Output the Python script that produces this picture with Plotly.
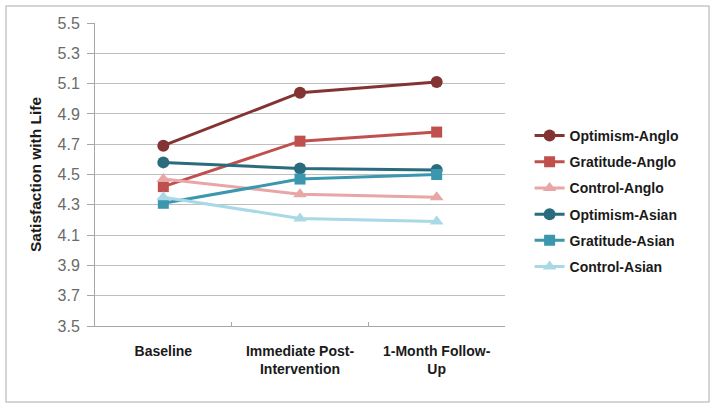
import plotly.graph_objects as go

categories = ["Baseline", "Immediate Post-<br>Intervention", "1-Month Follow-<br>Up"]
series_names = ["Optimism-Anglo", "Gratitude-Anglo", "Control-Anglo",
                "Optimism-Asian", "Gratitude-Asian", "Control-Asian"]
optimism_anglo = [4.69, 5.04, 5.11]
gratitude_anglo = [4.42, 4.72, 4.78]
control_anglo = [4.47, 4.37, 4.35]
optimism_asian = [4.58, 4.54, 4.53]
gratitude_asian = [4.31, 4.47, 4.50]
control_asian = [4.35, 4.21, 4.19]
y_ticks = [3.5, 3.7, 3.9, 4.1, 4.3, 4.5, 4.7, 4.9, 5.1, 5.3, 5.5]

values = [optimism_anglo, gratitude_anglo, control_anglo,
          optimism_asian, gratitude_asian, control_asian]
colors = ["#843333", "#C0504D", "#E8A6A6", "#2A6B7D", "#3A97AD", "#A9D9E6"]
symbols = ["circle", "square", "triangle-up", "circle", "square", "triangle-up"]
sizes = [12, 11, 12, 12, 11, 12]

fig = go.Figure()
for i, (name, vals) in enumerate(zip(series_names, values)):
    fig.add_trace(go.Scatter(
        x=categories, y=vals, name=name, mode="lines+markers",
        line=dict(color=colors[i], width=3),
        marker=dict(symbol=symbols[i], size=sizes[i], color=colors[i]),
        legendgroup=name,
    ))

fig.update_layout(
    width=714, height=408,
    margin=dict(l=95, r=209, t=23, b=82),
    paper_bgcolor="white", plot_bgcolor="white",
    font=dict(family="Liberation Sans, Arial, sans-serif"),
    showlegend=True,
    legend=dict(
        x=1.06, y=0.68, xanchor="left", yanchor="top",
        font=dict(size=14, color="#1a1a1a", family="Liberation Sans, Arial, sans-serif", weight="bold"),
        tracegroupgap=5, itemwidth=30,
        bgcolor="rgba(0,0,0,0)",
    ),
    xaxis=dict(
        type="category", tickson="boundaries", ticks="inside", ticklen=4,
        tickcolor="#A6A6A6", showline=True, linecolor="#A6A6A6", linewidth=1,
        showgrid=False,
        tickfont=dict(size=14, color="#1a1a1a", weight="bold"),
        ticklabelstandoff=12,
        range=[-0.5, 2.5],
    ),
    yaxis=dict(
        range=[3.5, 5.5], tickvals=y_ticks, ticktext=[f"{v:.1f}" for v in y_ticks],
        showgrid=True, gridcolor="#BFBFBF", gridwidth=1,
        showline=True, linecolor="#A6A6A6", linewidth=1,
        ticks="outside", ticklen=7, tickcolor="#A6A6A6",
        tickfont=dict(size=16, color="#6a6a6a"),
        ticklabelstandoff=4,
        zeroline=False,
        title=dict(text="Satisfaction with Life", font=dict(size=15.5, color="#1a1a1a", weight="bold"), standoff=12),
    ),
)

fig.add_shape(type="rect", xref="paper", yref="paper",
              x0=(6 - 95) / 410, x1=(709 - 95) / 410,
              y0=(326 - 402) / 303, y1=(326 - 6) / 303,
              line=dict(color="#C8C8C8", width=1.5), fillcolor="rgba(0,0,0,0)", layer="below")

fig.write_html("out.html", config={"displayModeBar": False},
               post_script="document.body.style.margin='0';document.body.style.padding='0';")
